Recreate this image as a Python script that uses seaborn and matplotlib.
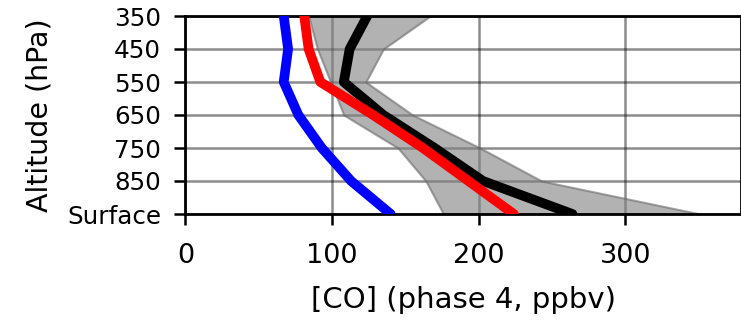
import matplotlib
matplotlib.use("Agg")
import matplotlib.pyplot as plt
import seaborn as sns
import numpy as np
import pandas as pd

levels = ["350", "450", "550", "650", "750", "850", "Surface"]
blue_vals = [67, 70, 67, 77, 93, 113, 140]
red_vals = [81, 84, 92, 128, 162, 193, 224]
black_vals = [124, 112, 108, 135, 170, 203, 264]
band_low = [84, 90, 99, 108, 145, 164, 176]
band_high = [167, 135, 123, 155, 201, 243, 351]
x_ticks = [0, 100, 200, 300]

sns.set_style("white")
plt.rcParams['font.family'] = ['DejaVu Sans']
plt.rcParams['text.color'] = 'black'
plt.rcParams['axes.labelcolor'] = 'black'
plt.rcParams['xtick.color'] = 'black'
plt.rcParams['ytick.color'] = 'black'

fig = plt.figure(figsize=(7.41, 3.20), dpi=100)
ax = fig.add_axes([185.5 / 741, 1 - 214 / 320, 1 - 185.5 / 741, 198 / 320])

pos = np.arange(len(levels))
df = pd.DataFrame({"level": pos, "blue": blue_vals, "red": red_vals,
                   "black": black_vals, "lo": band_low, "hi": band_high})

ax.fill_betweenx(df["level"], df["lo"], df["hi"], facecolor="gray", alpha=0.6,
                 edgecolor="dimgray", linewidth=1.5, zorder=2)
sns.lineplot(data=df, x="black", y="level", sort=False, estimator=None,
             color="black", linewidth=7, ax=ax, zorder=3)
sns.lineplot(data=df, x="red", y="level", sort=False, estimator=None,
             color="red", linewidth=7, ax=ax, zorder=4)
sns.lineplot(data=df, x="blue", y="level", sort=False, estimator=None,
             color="blue", linewidth=7, ax=ax, zorder=4)

ax.set_ylim(len(levels) - 1, 0)
ax.set_xlim(0, 379)
ax.set_yticks(pos)
ax.set_yticklabels(levels)
ax.set_xticks(x_ticks)
ax.grid(True, color="black", alpha=0.45, linewidth=1.8, zorder=1)
ax.set_axisbelow(True)
for s in ax.spines.values():
    s.set_color("black")
    s.set_linewidth(2)
ax.tick_params(axis="x", direction="out", length=8, width=1.8,
               pad=13, labelsize=19.5, bottom=True)
ax.tick_params(axis="y", direction="out", length=8, width=1.8,
               pad=9.5, labelsize=17.7, left=True)
ax.set_xlabel("[CO] (phase 4, ppbv)", fontsize=21, labelpad=12)
ax.set_ylabel("Altitude (hPa)", fontsize=20.5, labelpad=10)

fig.savefig("out.png", dpi=100)
